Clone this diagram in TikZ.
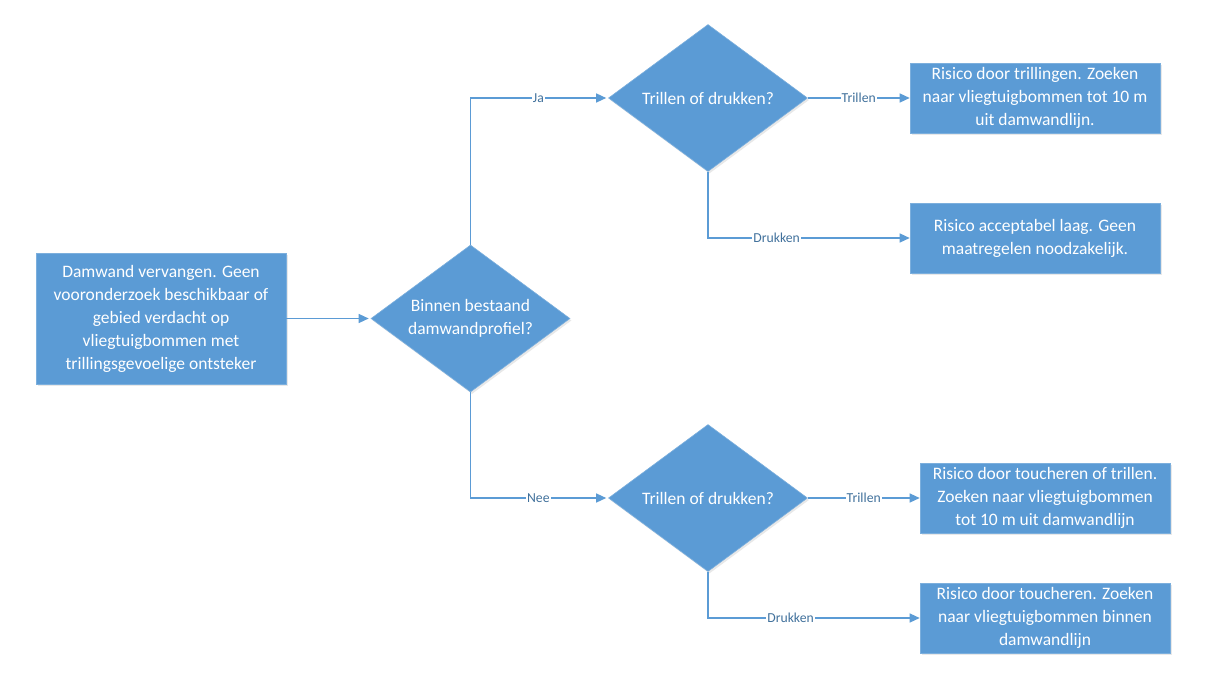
\documentclass[tikz,border=0pt]{standalone}
\usepackage{fontspec}
\setmainfont{Carlito}
\usetikzlibrary{shapes.geometric,arrows.meta,shadows}
\definecolor{boxblue}{HTML}{5B9BD5}
\definecolor{edgeblue}{HTML}{5B9BD5}
\definecolor{lbltext}{HTML}{41719C}
\begin{document}
\begin{tikzpicture}[x=1pt,y=-1pt,
  box/.style={rectangle, fill=boxblue, draw=boxblue!80!white, line width=0.6pt,
    minimum width=250pt, minimum height=70pt, inner sep=2pt, align=center,
    text=white, font=\fontsize{17.5}{23}\selectfont,
    drop shadow={shadow xshift=1.5pt, shadow yshift=-2pt, opacity=0.18}},
  dec/.style={diamond, fill=boxblue, draw=boxblue!80!white, line width=0.6pt,
    minimum width=199pt, minimum height=147pt, inner sep=0pt,
    drop shadow={shadow xshift=1.5pt, shadow yshift=-2pt, opacity=0.18}},
  dectext/.style={text=white, align=center, font=\fontsize{17.5}{23}\selectfont},
  conn/.style={draw=edgeblue, line width=1.3pt, -{Triangle[length=10pt,width=9pt]}},
  lbl/.style={fill=white, text=lbltext, inner sep=1pt, font=\fontsize{13.7}{15}\selectfont}
]
\useasboundingbox (0,0) rectangle (1206,695);

\node[box, minimum height=131pt] (start) at (161,318.5)
  {Damwand vervangen. Geen\\vooronderzoek beschikbaar of\\gebied verdacht op\\vliegtuigbommen met\\trillingsgevoelige ontsteker};

\node[dec] (d1) at (470.5,318.5) {};
\node[dectext] at (d1.center) {Binnen bestaand\\damwandprofiel?};

\node[dec] (d2) at (708,98) {};
\node[dectext] at (d2.center) {Trillen of drukken?};

\node[dec] (d3) at (708,498) {};
\node[dectext] at (d3.center) {Trillen of drukken?};

\node[box] (r1) at (1035,98) {Risico door trillingen. Zoeken\\naar vliegtuigbommen tot 10 m\\uit damwandlijn.};
\node[box] (r2) at (1035,238) {Risico acceptabel laag. Geen\\maatregelen noodzakelijk.};
\node[box] (r3) at (1045,498) {Risico door toucheren of trillen.\\Zoeken naar vliegtuigbommen\\tot 10 m uit damwandlijn};
\node[box] (r4) at (1045,618) {Risico door toucheren. Zoeken\\naar vliegtuigbommen binnen\\damwandlijn};

\draw[conn] (start.east) -- ([xshift=-2pt]d1.west);
\draw[conn] (d1.north) |- node[lbl, pos=0.75] {Ja} ([xshift=-2pt]d2.west);
\draw[conn] (d1.south) |- node[lbl, pos=0.75] {Nee} ([xshift=-2pt]d3.west);
\draw[conn] (d2.east) -- node[lbl] {Trillen} (r1.west);
\draw[conn] (d2.south) |- node[lbl, pos=0.67] {Drukken} (r2.west);
\draw[conn] (d3.east) -- node[lbl] {Trillen} (r3.west);
\draw[conn] (d3.south) |- node[lbl, pos=0.695] {Drukken} (r4.west);
\end{tikzpicture}
\end{document}
